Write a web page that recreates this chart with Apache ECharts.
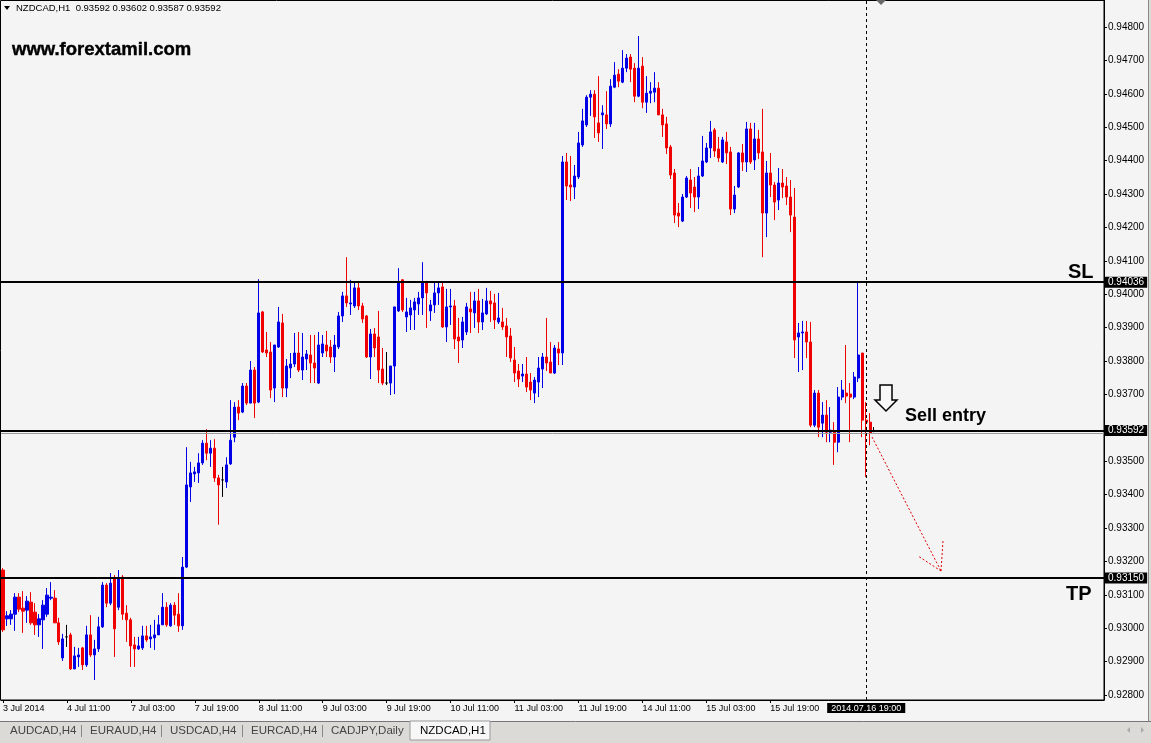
<!DOCTYPE html>
<html><head><meta charset="utf-8">
<script src="https://cdn.jsdelivr.net/npm/echarts@6/dist/echarts.min.js"></script>
<style>html,body{margin:0;padding:0;background:#f5f4f4;}#c{width:1151px;height:743px;}</style>
</head><body><div id="c"></div>
<script>
const symbolName = 'NZDCAD,H1';
const timeTickLabels = ['3 Jul 2014','4 Jul 11:00','7 Jul 03:00','7 Jul 19:00','8 Jul 11:00','9 Jul 03:00','9 Jul 19:00','10 Jul 11:00','11 Jul 03:00','11 Jul 19:00','14 Jul 11:00','15 Jul 03:00','15 Jul 19:00'];
const barsPerTimeTick = 16;
const priceTicks = [0.928,0.929,0.930,0.931,0.932,0.933,0.934,0.935,0.937,0.938,0.939,0.940,0.941,0.942,0.943,0.944,0.945,0.946,0.947,0.948];
const priceMin = 0.92785, priceMax = 0.94881;
const visibleSlots = 276;

const opens = [0.93174,0.93028,0.93028,0.93042,0.93093,0.93060,0.93054,0.93078,0.93048,0.93010,
0.93025,0.93042,0.93090,0.93090,0.93016,0.92911,0.92974,0.92980,0.92878,0.92914,
0.92941,0.92890,0.92980,0.92920,0.92938,0.93004,0.93129,0.93075,0.93150,0.93063,
0.93153,0.93045,0.93025,0.92950,0.92938,0.92941,0.92977,0.92968,0.92971,0.92980,
0.93010,0.93063,0.93007,0.93069,0.93042,0.93007,0.93183,0.93423,0.93462,0.93465,
0.93495,0.93554,0.93524,0.93539,0.93450,0.93444,0.93438,0.93492,0.93572,0.93662,
0.93647,0.93725,0.93674,0.93773,0.93677,0.93947,0.93833,0.93827,0.93719,0.93842,
0.93914,0.93719,0.93779,0.93791,0.93824,0.93773,0.93806,0.93818,0.93794,0.93734,
0.93824,0.93848,0.93842,0.93812,0.93842,0.93935,0.93995,0.93971,0.93965,0.94019,
0.93965,0.93935,0.93812,0.93881,0.93872,0.93776,0.93734,0.93734,0.93785,0.93950,
0.94043,0.93932,0.93938,0.93953,0.93971,0.93989,0.94037,0.93950,0.93968,0.94004,
0.94022,0.93902,0.93962,0.93965,0.93872,0.93863,0.93887,0.93956,0.93944,0.93980,
0.93917,0.93941,0.93980,0.93974,0.93917,0.93917,0.93905,0.93875,0.93803,0.93770,
0.93755,0.93761,0.93737,0.93704,0.93737,0.93776,0.93812,0.93797,0.93764,0.93836,
0.93824,0.94396,0.94327,0.94321,0.94351,0.94447,0.94507,0.94590,0.94599,0.94513,
0.94537,0.94537,0.94510,0.94620,0.94659,0.94635,0.94677,0.94710,0.94677,0.94593,
0.94683,0.94575,0.94602,0.94605,0.94617,0.94537,0.94510,0.94441,0.94363,0.94243,
0.94219,0.94291,0.94342,0.94321,0.94291,0.94354,0.94396,0.94438,0.94492,0.94435,
0.94396,0.94456,0.94426,0.94255,0.94321,0.94423,0.94396,0.94495,0.94402,0.94465,
0.94426,0.94243,0.94363,0.94327,0.94282,0.94333,0.94324,0.94291,0.94231,0.93872,
0.93884,0.93887,0.93857,0.93608,0.93704,0.93614,0.93638,0.93587,0.93587,0.93557,
0.93692,0.93704,0.93701,0.93692,0.93749,0.93824,0.93623,0.93617,0.93592];

const closes = [0.92995,0.93037,0.93042,0.93093,0.93057,0.93051,0.93081,0.93016,0.93010,0.93028,
0.93069,0.93099,0.93093,0.93016,0.92959,0.92968,0.92974,0.92878,0.92917,0.92920,
0.92890,0.92980,0.92920,0.92938,0.93004,0.93129,0.93075,0.93135,0.92998,0.93147,
0.93042,0.93025,0.92947,0.92938,0.92947,0.92977,0.92965,0.92974,0.92980,0.93010,
0.93063,0.93010,0.93069,0.93039,0.93007,0.93183,0.93429,0.93465,0.93468,0.93495,
0.93554,0.93524,0.93539,0.93450,0.93429,0.93444,0.93489,0.93563,0.93662,0.93644,
0.93725,0.93674,0.93773,0.93674,0.93944,0.93827,0.93824,0.93713,0.93848,0.93917,
0.93719,0.93785,0.93791,0.93824,0.93773,0.93812,0.93821,0.93794,0.93779,0.93848,
0.93851,0.93830,0.93812,0.93848,0.93935,0.93995,0.93974,0.93974,0.94019,0.93965,
0.93926,0.93812,0.93881,0.93839,0.93773,0.93734,0.93734,0.93785,0.93962,0.94034,
0.93953,0.93947,0.93959,0.93977,0.93989,0.94037,0.94004,0.93968,0.94004,0.94019,
0.93902,0.93962,0.93965,0.93866,0.93860,0.93917,0.93962,0.93947,0.93980,0.93917,
0.93944,0.93980,0.93971,0.93923,0.93929,0.93902,0.93872,0.93809,0.93764,0.93746,
0.93761,0.93722,0.93713,0.93743,0.93779,0.93812,0.93794,0.93764,0.93839,0.93824,
0.94396,0.94324,0.94321,0.94354,0.94453,0.94519,0.94590,0.94599,0.94531,0.94483,
0.94543,0.94510,0.94623,0.94656,0.94638,0.94677,0.94707,0.94674,0.94593,0.94677,
0.94575,0.94602,0.94608,0.94617,0.94537,0.94507,0.94438,0.94357,0.94237,0.94234,
0.94291,0.94348,0.94303,0.94291,0.94354,0.94399,0.94438,0.94486,0.94429,0.94408,
0.94462,0.94423,0.94255,0.94297,0.94423,0.94396,0.94495,0.94396,0.94465,0.94423,
0.94243,0.94363,0.94327,0.94276,0.94333,0.94321,0.94291,0.94237,0.93863,0.93884,
0.93887,0.93857,0.93608,0.93704,0.93602,0.93638,0.93587,0.93593,0.93557,0.93692,
0.93713,0.93695,0.93692,0.93752,0.93818,0.93623,0.93617,0.93584,0.93592];

const lows = [0.92989,0.93007,0.93010,0.92992,0.93048,0.92986,0.93016,0.93010,0.92980,0.92974,
0.92938,0.93034,0.93084,0.93016,0.92950,0.92902,0.92944,0.92875,0.92878,0.92884,
0.92875,0.92884,0.92914,0.92845,0.92929,0.93001,0.93063,0.93069,0.92914,0.93054,
0.93025,0.92959,0.92884,0.92884,0.92935,0.92935,0.92959,0.92941,0.92935,0.92980,
0.93010,0.93004,0.93004,0.93010,0.92989,0.92995,0.93180,0.93378,0.93438,0.93435,
0.93489,0.93503,0.93483,0.93438,0.93310,0.93393,0.93420,0.93489,0.93557,0.93623,
0.93644,0.93668,0.93674,0.93629,0.93674,0.93824,0.93812,0.93689,0.93677,0.93839,
0.93692,0.93692,0.93749,0.93782,0.93767,0.93743,0.93773,0.93734,0.93734,0.93731,
0.93812,0.93812,0.93794,0.93767,0.93836,0.93917,0.93962,0.93938,0.93959,0.93953,
0.93914,0.93809,0.93746,0.93812,0.93734,0.93728,0.93728,0.93698,0.93701,0.93947,
0.93947,0.93887,0.93893,0.93893,0.93938,0.93938,0.93899,0.93920,0.93944,0.93968,
0.93899,0.93857,0.93908,0.93836,0.93794,0.93839,0.93878,0.93884,0.93899,0.93884,
0.93893,0.93938,0.93917,0.93896,0.93911,0.93893,0.93812,0.93797,0.93737,0.93722,
0.93737,0.93707,0.93683,0.93674,0.93692,0.93719,0.93770,0.93764,0.93761,0.93788,
0.93788,0.94282,0.94279,0.94285,0.94345,0.94441,0.94501,0.94534,0.94468,0.94456,
0.94435,0.94495,0.94501,0.94617,0.94620,0.94632,0.94665,0.94635,0.94575,0.94590,
0.94557,0.94543,0.94572,0.94575,0.94537,0.94471,0.94420,0.94345,0.94213,0.94201,
0.94216,0.94288,0.94258,0.94246,0.94255,0.94351,0.94393,0.94408,0.94411,0.94396,
0.94393,0.94390,0.94237,0.94243,0.94318,0.94369,0.94366,0.94390,0.94372,0.94405,
0.94111,0.94171,0.94291,0.94222,0.94252,0.94288,0.94267,0.94186,0.93809,0.93767,
0.93773,0.93809,0.93602,0.93602,0.93572,0.93572,0.93557,0.93557,0.93489,0.93527,
0.93683,0.93674,0.93557,0.93686,0.93737,0.93572,0.93453,0.93548,0.93587];

const highs = [0.93180,0.93051,0.93054,0.93105,0.93105,0.93111,0.93096,0.93108,0.93075,0.93042,
0.93084,0.93120,0.93138,0.93114,0.93031,0.92983,0.93010,0.92986,0.92944,0.92941,
0.92944,0.93007,0.93039,0.92965,0.93034,0.93138,0.93135,0.93165,0.93159,0.93174,
0.93159,0.93069,0.93031,0.92974,0.92974,0.93007,0.93007,0.93010,0.93025,0.93039,
0.93105,0.93078,0.93075,0.93078,0.93105,0.93213,0.93542,0.93498,0.93483,0.93524,
0.93563,0.93596,0.93563,0.93566,0.93459,0.93483,0.93512,0.93683,0.93677,0.93683,
0.93734,0.93734,0.93800,0.93782,0.94045,0.93950,0.93887,0.93857,0.93848,0.93962,
0.93941,0.93806,0.93824,0.93884,0.93887,0.93884,0.93833,0.93878,0.93878,0.93887,
0.93878,0.93890,0.93863,0.93878,0.93947,0.94007,0.94111,0.94043,0.94037,0.94034,
0.93974,0.93938,0.93896,0.93899,0.93950,0.93839,0.93827,0.93785,0.93962,0.94078,
0.94045,0.93989,0.93983,0.93989,0.94007,0.94096,0.94040,0.93983,0.94037,0.94037,
0.94037,0.94016,0.94016,0.93983,0.93929,0.93932,0.93974,0.94007,0.94007,0.94016,
0.93986,0.94019,0.94010,0.94001,0.94004,0.93959,0.93929,0.93899,0.93842,0.93791,
0.93791,0.93812,0.93764,0.93752,0.93812,0.93824,0.93929,0.93857,0.93848,0.93857,
0.94414,0.94423,0.94414,0.94387,0.94486,0.94555,0.94596,0.94611,0.94611,0.94653,
0.94566,0.94608,0.94644,0.94695,0.94674,0.94731,0.94719,0.94719,0.94692,0.94773,
0.94710,0.94653,0.94635,0.94665,0.94635,0.94555,0.94531,0.94447,0.94375,0.94273,
0.94300,0.94354,0.94375,0.94351,0.94381,0.94474,0.94453,0.94519,0.94498,0.94471,
0.94471,0.94486,0.94441,0.94324,0.94426,0.94450,0.94516,0.94513,0.94513,0.94492,
0.94555,0.94399,0.94423,0.94336,0.94378,0.94375,0.94351,0.94342,0.94318,0.93914,
0.93920,0.93920,0.93917,0.93713,0.93713,0.93677,0.93683,0.93662,0.93617,0.93722,
0.93743,0.93848,0.93734,0.93767,0.94034,0.93824,0.93677,0.93644,0.93602];

const stopLoss = 0.94036, sellEntry = 0.93592, takeProfit = 0.93150, bidLine = 0.93584;
const cursorBar = 216, cursorTime = '2014.07.16 19:00';
const tabNames = ['AUDCAD,H4','EURAUD,H4','USDCAD,H4','EURCAD,H4','CADJPY,Daily','NZDCAD,H1'];

const chart = echarts.init(document.getElementById('c'), null, {renderer:'canvas'});
const candles = opens.map((o,i)=>[o, closes[i], lows[i], highs[i]]);
const slots = Array.from({length: visibleSlots}, (_, i) => String(i));
const last = opens.length - 1;
const header = symbolName + '  ' + [opens[last], highs[last], lows[last], closes[last]].map(v=>v.toFixed(5)).join(' ');
const showTick = (i) => i % barsPerTimeTick === 0 && (i / barsPerTimeTick) < timeTickLabels.length;
const FONT = '"Liberation Sans", Arial, sans-serif';

function priceLevel(v, withLabel, color, width) {
  return {
    yAxis: v,
    lineStyle: {color: color, width: width, type: 'solid'},
    label: withLabel ? {show:true, position:'end', distance:1, formatter: v.toFixed(5), color:'#fff', backgroundColor:'#000', padding:[1,3,0,3], fontSize:10, fontFamily: FONT} : {show:false}
  };
}

const tabX = [10, 90, 170, 251, 331, 420];
const graphic = [
  {type:'rect', z:-1, shape:{x:0, y:721, width:1151, height:22}, style:{fill:'#dcdad6'}},
  {type:'line', shape:{x1:0, y1:721.5, x2:1151, y2:721.5}, style:{stroke:'#777', lineWidth:1}},
  {type:'rect', shape:{x:410, y:721, width:80, height:19}, style:{fill:'#f7f7f7', stroke:'#999', lineWidth:1}},
  {type:'line', shape:{x1:1148.5, y1:0, x2:1148.5, y2:721}, style:{stroke:'#888', lineWidth:1}},
  {type:'rect', shape:{x:1149, y:0, width:2, height:721}, style:{fill:'#dcdad6'}},
  {type:'rect', shape:{x:0.5, y:0.5, width:1103.5, height:699.5}, style:{fill:null, stroke:'#000', lineWidth:1}},
  {type:'polygon', shape:{points:[[4,6],[10,6],[7,10]]}, style:{fill:'#000'}},
  {type:'text', x:16, y:8, style:{text: header, fill:'#000', font:'9.5px ' + FONT, textVerticalAlign:'middle'}},
  {type:'text', x:12, y:50, style:{text:'www.forextamil.com', fill:'#000', font:'bold 18.5px ' + FONT, textVerticalAlign:'middle', stroke:'#000', lineWidth:0.4}},
  {type:'text', x:1068, y:272, style:{text:'SL', fill:'#000', font:'bold 20px ' + FONT, textVerticalAlign:'middle'}},
  {type:'text', x:1066, y:594, style:{text:'TP', fill:'#000', font:'bold 20px ' + FONT, textVerticalAlign:'middle'}},
  {type:'text', x:905, y:416, style:{text:'Sell entry', fill:'#000', font:'bold 18px ' + FONT, textVerticalAlign:'middle'}},
  {type:'polygon', z:100, shape:{points:[[880,385],[892,385],[892,400],[897,400],[886,411],[875,400],[880,400]]}, style:{fill:'#f8f8f8', stroke:'#000', lineWidth:1.5}},
  {type:'line', z:100, shape:{x1:872, y1:437, x2:941, y2:571}, style:{stroke:'#e00000', lineWidth:1, lineDash:[2,2]}},
  {type:'line', z:100, shape:{x1:941, y1:571, x2:943, y2:541}, style:{stroke:'#e00000', lineWidth:1, lineDash:[2,2]}},
  {type:'line', z:100, shape:{x1:941, y1:571, x2:918, y2:556}, style:{stroke:'#e00000', lineWidth:1, lineDash:[2,2]}},
  {type:'polygon', shape:{points:[[876,0],[886,0],[881,5]]}, style:{fill:'#666'}},
  {type:'polygon', shape:{points:[[1130,727],[1130,733],[1127,730]]}, style:{fill:'#aaa'}},
  {type:'polygon', shape:{points:[[1141,727],[1141,733],[1144,730]]}, style:{fill:'#aaa'}}
];
tabNames.forEach((n, i) => {
  graphic.push({type:'text', x: tabX[i], y: 731, style:{text:n, fill: i === tabNames.length-1 ? '#000' : '#444', font:'11.5px ' + FONT, textVerticalAlign:'middle'}});
  if (i > 0 && i < tabNames.length - 1) graphic.push({type:'line', shape:{x1: tabX[i]-8.5, y1:725, x2: tabX[i]-8.5, y2:737}, style:{stroke:'#888', lineWidth:1}});
});
graphic.push({type:'line', shape:{x1:322.5, y1:725, x2:322.5, y2:737}, style:{stroke:'#888', lineWidth:1}});

chart.setOption({
  animation: false,
  backgroundColor: '#f5f4f4',
  grid: {left: 0, top: 0, width: 1104, height: 700, containLabel: false},
  xAxis: {
    type: 'category', data: slots, boundaryGap: true,
    axisLine: {show: true, lineStyle: {color: '#000', width: 1}},
    axisTick: {show: true, alignWithLabel: true, interval: (i) => showTick(i), length: 3, lineStyle: {color: '#000'}},
    axisLabel: {interval: (i) => showTick(i), formatter: (v, i) => timeTickLabels[Math.round(+v / barsPerTimeTick)] || '', align: 'left', margin: 4, fontSize: 9, color: '#000', fontFamily: FONT, hideOverlap: false},
    splitLine: {show: false}
  },
  yAxis: {
    type: 'value', position: 'right', min: priceMin, max: priceMax, scale: true,
    axisLine: {show: true, lineStyle: {color: '#000', width: 1}},
    axisTick: {show: true, length: 3, customValues: priceTicks, lineStyle: {color: '#000'}},
    axisLabel: {customValues: priceTicks, formatter: (v) => v.toFixed(5), margin: 4, fontSize: 10, color: '#000', fontFamily: FONT, align: 'left'},
    splitLine: {show: false}
  },
  series: [{
    type: 'candlestick',
    data: candles,
    barWidth: 2.6,
    itemStyle: {color: '#0000e6', color0: '#f00000', borderColor: '#0000e6', borderColor0: '#f00000', borderColorDoji: '#000', borderWidth: 1},
    markLine: {
      silent: true, symbol: ['none', 'none'], animation: false, precision: 5,
      data: [
        priceLevel(stopLoss, true, '#000', 2),
        priceLevel(bidLine, false, '#9a9a9a', 1),
        priceLevel(sellEntry, true, '#000', 2),
        priceLevel(takeProfit, true, '#000', 2),
        {xAxis: cursorBar, lineStyle: {color: '#000', width: 1, type: [3, 3]},
         label: {show: true, position: 'start', distance: 3, formatter: cursorTime, color: '#fff', backgroundColor: '#000', padding: [1, 4, 0, 4], fontSize: 9, fontFamily: FONT}}
      ]
    }
  }],
  graphic: graphic
});
</script></body></html>
